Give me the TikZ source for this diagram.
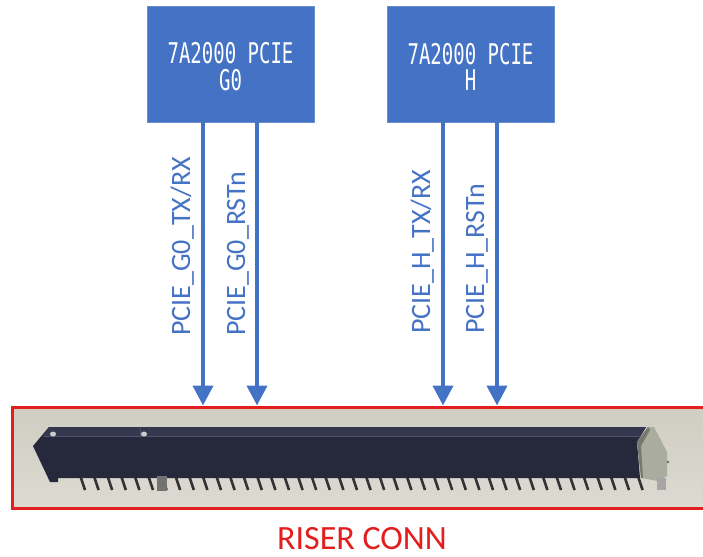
\documentclass[tikz,border=0pt]{standalone}
\usepackage{fontspec}
\usepackage{graphicx}
\setmainfont{Carlito}
\newfontfamily\chipfont{DejaVu Sans Mono}
\usetikzlibrary{arrows.meta, positioning}

\definecolor{pcieblue}{RGB}{68,114,196}
\definecolor{riserred}{RGB}{226,30,30}
\definecolor{connbgtop}{RGB}{208,205,194}
\definecolor{connbgbot}{RGB}{220,218,210}
\definecolor{barnavy}{RGB}{38,40,60}
\definecolor{bartop}{RGB}{52,55,78}
\definecolor{barline}{RGB}{78,82,104}
\definecolor{bracketgray}{RGB}{170,172,158}
\definecolor{pingray}{RGB}{50,50,50}

\newcommand{\chiptext}[1]{\raisebox{-6.5pt}[\height][\depth]{\chipfont\fontsize{19}{16.5}\selectfont\scalebox{1}[1.5]{\begin{tabular}{@{}c@{}}7A2000 PCIE\\[-1.2pt]#1\end{tabular}}}}

\begin{document}
\begin{tikzpicture}[x=1pt, y=-1pt]
	\tikzset{chip/.style={draw=pcieblue!80!white, fill=pcieblue, minimum width=167pt, minimum height=116pt, inner sep=0pt, text=white},
		sig/.style={-{Triangle[width=20pt, length=20pt]}, line width=4pt, draw=pcieblue},
		signame/.style={rotate=90, anchor=base west, inner sep=0pt, text=pcieblue, font=\fontsize{28}{30}\selectfont},
		riser/.style={draw=riserred, line width=3pt, top color=connbgtop, bottom color=connbgbot, minimum width=700pt, minimum height=101pt, inner sep=0pt},
		pin/.style={draw=pingray, line width=2.6pt}}
	
	\useasboundingbox (0,0) rectangle (703,556);
	\clip (0,0) rectangle (703,556);
	
	\node[chip] (g0) at (230.5,64) {\chiptext{G0}};
	\node[chip] (h) at (470.5,64) {\chiptext{H}};
	\node[riser] (riser) at (362,457.5) {};
	\node[text=riserred, inner sep=0pt, font=\fontsize{34}{40}\selectfont] (rname) at (362,539) {RISER CONN};
	
	% connector body
	\foreach \i in {0,...,41}
		\draw[pin] ({80+13.6*\i},475) -- ({85+13.6*\i},490);
	\fill[barnavy] (33,446) -- (49,427) -- (646,427) -- (637,442) -- (640,478) -- (58,478) -- (58,482) -- (50,482) -- cycle;
	\fill[bartop] (42,437) -- (49,427) -- (646,427) -- (640,437) -- cycle;
	\draw[barline, line width=1pt] (44,436) -- (639,436);
	\draw[barline, line width=0.6pt] (140,428) -- (140,436);
	\fill[bracketgray] (637,442) -- (648,427) -- (654,427) -- (667,452) -- (667,476) -- (658,481) -- (641,478) -- cycle;
	\fill[bracketgray!70!black] (637,442) -- (648,427) -- (650,430) -- (641,446) -- (643,478) -- (641,478) -- cycle;
	\fill[bracketgray!60!black] (668,462) circle (1.3);
	\fill[gray!70] (657,478) rectangle (666,490);
	\fill[gray!90!black] (157,476) rectangle (167,491);
	\fill[gray!40] (53,434) ellipse (3 and 2.5);
	\fill[gray!40] (144,434) ellipse (3 and 2.5);
	
	% signals
	\coordinate (g0tx) at ([xshift=-27.5pt]g0.south);
	\coordinate (g0rst) at ([xshift=26.5pt]g0.south);
	\coordinate (htx) at ([xshift=-27.5pt]h.south);
	\coordinate (hrst) at ([xshift=26.5pt]h.south);
	\draw[sig] (g0tx) -- (g0tx |- riser.north);
	\draw[sig] (g0rst) -- (g0rst |- riser.north);
	\draw[sig] (htx) -- (htx |- riser.north);
	\draw[sig] (hrst) -- (hrst |- riser.north);
	
	\node[signame] (g0txname) at (190,336) {PCIE\_G0\_TX/RX};
	\node[signame] (g0rstname) at (245,336) {PCIE\_G0\_RSTn};
	\node[signame] (htxname) at (430,334) {PCIE\_H\_TX/RX};
	\node[signame] (hrstname) at (484,334) {PCIE\_H\_RSTn};
\end{tikzpicture}
\end{document}
